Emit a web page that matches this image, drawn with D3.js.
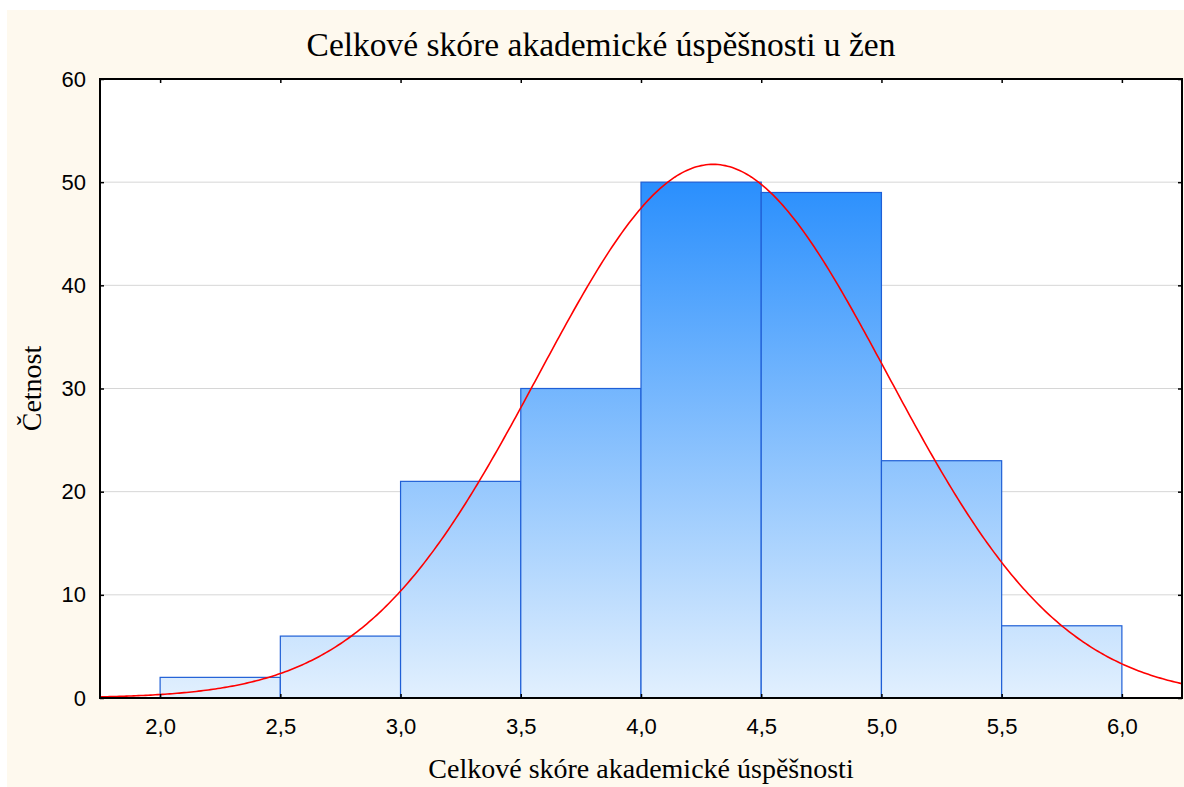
<!DOCTYPE html>
<html lang="cs">
<head>
    <meta charset="UTF-8">
    <title>Celkové skóre akademické úspěšnosti u žen</title>
    <style>
        body {
            margin: 0;
            background: #ffffff;
            overflow: hidden;
        }
        svg { display: block; }
        .serif {
            font-family: "Liberation Serif", "Times New Roman", serif;
            fill: #000;
        }
    </style>
</head>
<body>
    <svg id="chart"></svg>

    <script src="https://d3js.org/d3.v7.min.js"></script>
    <script>
        // histogram bins (lower edges) and counts
        const binStarts = [2.0, 2.5, 3.0, 3.5, 4.0, 4.5, 5.0, 5.5];
        const binWidth = 0.5;
        const counts = [2, 6, 21, 30, 50, 49, 23, 7];
        const xTicks = [2.0, 2.5, 3.0, 3.5, 4.0, 4.5, 5.0, 5.5, 6.0];
        const yTicks = [0, 10, 20, 30, 40, 50, 60];
        // fitted normal curve parameters
        const fitMean = 4.30;
        const fitSd = 0.725;

        const W = 1184, H = 787;
        const plot = { left: 100, right: 1182, top: 79, bottom: 698 };

        const svg = d3.select("#chart")
            .attr("width", W)
            .attr("height", H);

        // cream background panel
        svg.append("rect")
            .attr("x", 7).attr("y", 10)
            .attr("width", W - 7).attr("height", H - 10)
            .attr("fill", "#fef9ee");

        const x = d3.scaleLinear().domain([1.75, 6.25]).range([plot.left, plot.right]);
        const y = d3.scaleLinear().domain([0, 60]).range([plot.bottom, plot.top]);

        // plot area
        svg.append("rect")
            .attr("x", plot.left).attr("y", plot.top)
            .attr("width", plot.right - plot.left)
            .attr("height", plot.bottom - plot.top)
            .attr("fill", "#ffffff");

        // gridlines
        svg.append("g")
            .selectAll("line")
            .data(yTicks.filter(d => d > 0 && d < 60))
            .enter().append("line")
            .attr("x1", plot.left).attr("x2", plot.right)
            .attr("y1", d => y(d)).attr("y2", d => y(d))
            .attr("stroke", "#d6d6d6")
            .attr("stroke-width", 1);

        // bar gradient, spread over the plot in user space
        const defs = svg.append("defs");
        const grad = defs.append("linearGradient")
            .attr("id", "barGrad")
            .attr("gradientUnits", "userSpaceOnUse")
            .attr("x1", 0).attr("x2", 0)
            .attr("y1", y(0)).attr("y2", y(50));
        grad.append("stop").attr("offset", "0%").attr("stop-color", "#e2f0fe");
        grad.append("stop").attr("offset", "100%").attr("stop-color", "#2a8ffd");

        const bins = binStarts.map((b, i) => ({ x0: b, x1: b + binWidth, n: counts[i] }));

        svg.append("g")
            .selectAll("rect")
            .data(bins)
            .enter().append("rect")
            .attr("x", d => x(d.x0))
            .attr("y", d => y(d.n))
            .attr("width", d => x(d.x1) - x(d.x0))
            .attr("height", d => y(0) - y(d.n))
            .attr("fill", "url(#barGrad)")
            .attr("stroke", "#1f5fd6")
            .attr("stroke-width", 1.2);

        // expected normal curve: N * binWidth * pdf
        const total = d3.sum(counts);
        const curveX = d3.range(1.75, 6.2501, 0.01);
        const normal = v => total * binWidth *
            Math.exp(-0.5 * Math.pow((v - fitMean) / fitSd, 2)) / (fitSd * Math.sqrt(2 * Math.PI));

        svg.append("path")
            .datum(curveX)
            .attr("fill", "none")
            .attr("stroke", "#ff0000")
            .attr("stroke-width", 1.6)
            .attr("d", d3.line().x(d => x(d)).y(d => y(normal(d))));

        const fmt = d => d.toFixed(1).replace(".", ",");

        // axes with inward ticks
        svg.append("g")
            .attr("transform", `translate(0,${plot.bottom})`)
            .call(d3.axisBottom(x).tickValues(xTicks).tickFormat(fmt).tickSize(-4).tickPadding(20))
            .call(g => g.select(".domain").remove());
        svg.append("g")
            .attr("transform", `translate(0,${plot.top})`)
            .call(d3.axisTop(x).tickValues(xTicks).tickFormat("").tickSize(-4))
            .call(g => g.select(".domain").remove());
        svg.append("g")
            .attr("transform", `translate(${plot.left},0)`)
            .call(d3.axisLeft(y).tickValues(yTicks).tickSize(-4).tickPadding(14))
            .call(g => g.select(".domain").remove());
        svg.append("g")
            .attr("transform", `translate(${plot.right},0)`)
            .call(d3.axisRight(y).tickValues(yTicks).tickFormat("").tickSize(-4))
            .call(g => g.select(".domain").remove());
        svg.selectAll(".tick line").attr("stroke", "#000").attr("stroke-width", 1.5);
        svg.selectAll(".tick text")
            .style("font-family", "Arial, 'Liberation Sans', sans-serif")
            .style("font-size", "22px")
            .style("fill", "#000");

        // frame
        svg.append("rect")
            .attr("x", plot.left).attr("y", plot.top)
            .attr("width", plot.right - plot.left)
            .attr("height", plot.bottom - plot.top)
            .attr("fill", "none")
            .attr("stroke", "#000")
            .attr("stroke-width", 2);

        // titles
        svg.append("text")
            .attr("class", "serif")
            .attr("x", 601).attr("y", 56)
            .attr("text-anchor", "middle")
            .style("font-size", "33.5px")
            .text("Celkové skóre akademické úspěšnosti u žen");

        svg.append("text")
            .attr("class", "serif")
            .attr("x", (plot.left + plot.right) / 2).attr("y", 778)
            .attr("text-anchor", "middle")
            .style("font-size", "28px")
            .text("Celkové skóre akademické úspěšnosti");

        svg.append("text")
            .attr("class", "serif")
            .attr("transform", `translate(41,${(plot.top + plot.bottom) / 2}) rotate(-90)`)
            .attr("text-anchor", "middle")
            .style("font-size", "28px")
            .text("Četnost");
    </script>
</body>
</html>
